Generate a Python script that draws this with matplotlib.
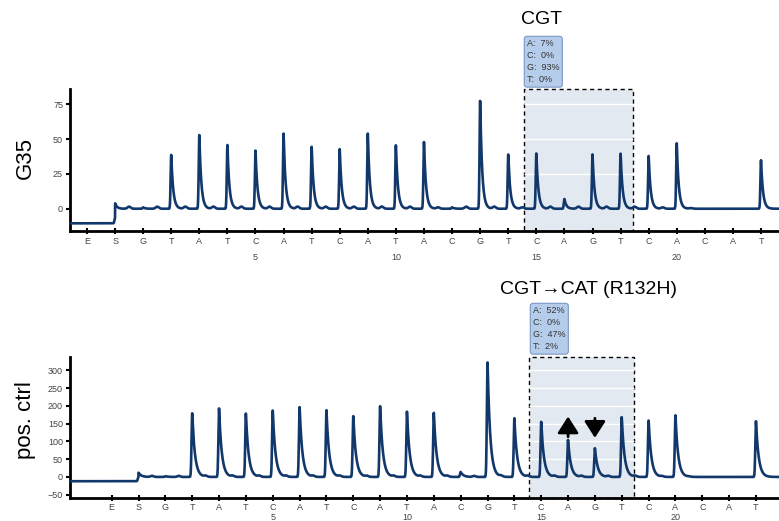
import numpy as np
import matplotlib
matplotlib.use("Agg")
import matplotlib.pyplot as plt
from matplotlib.patches import Rectangle

plt.rcParams['font.family'] = ['Liberation Sans', 'DejaVu Sans']

# dispensation order and positions (E = enzyme, S = substrate)
flows = list("ESGTATCATCATACGTCAGTCACAT")
positions = list(range(-1, 24))
numbered = {5: "5", 10: "10", 15: "15", 20: "20"}

# peak heights, one per dispensation
g35_heights = [0, 4, 1, 39, 53, 46, 42, 54, 45, 43, 54, 46, 48, 1, 78,
               39, 40, 7, 39, 40, 38, 47, 0, 0, 35]
ctrl_heights = [0, 12, 2, 179, 193, 179, 188, 198, 188, 171, 199, 184, 181, 14, 324,
                165, 155, 104, 81, 169, 160, 174, 0, 0, 157]

# small ripples between dispensations (positions 0.5 ... 22.5)
ripple_pos = [p + 0.5 for p in range(0, 23)]
g35_ripple = [1.5, 1.5, 1.5, 1.5, 1.5, 1.5, 1.5, 1.5, 1.5, 1.5, 1.5, 1, 1.5, 1.5,
              1, 1.5, 1.5, 1.5, 1.5, 1, 0.5, 0, 0]
ctrl_ripple = [3, 3, 3, 3, 3, 3, 3, 3, 3, 3, 3, 3, 3, 3,
               3, 3, 3, 3, 3, 2, 1, 0, 0]

g35_offset = -10.5   # baseline before substrate
ctrl_offset = -12

g35_pct = "A:  7%\nC:  0%\nG:  93%\nT:  0%"
ctrl_pct = "A:  52%\nC:  0%\nG:  47%\nT:  2%"

line_color = '#12386b'
box_face = '#e3e9f0'


def trace(x, heights, ripple, offset, rise, tail):
    y = np.where(x < 0, offset, 0.0)
    for p, h in zip(positions, heights):
        t = x - p
        y = y + h * np.where(t < 0, np.exp(-(t / rise) ** 2), np.exp(-np.clip(t, 0, None) / tail))
    for p, h in zip(ripple_pos, ripple):
        y = y + h * np.exp(-((x - p) / 0.08) ** 2)
    return y


def style_axes(ax, xlim, ylim, yticks, region, pct_grid, spacing, pad):
    ax.set_xlim(*xlim)
    ax.set_ylim(*ylim)
    for s in ['top', 'right']:
        ax.spines[s].set_visible(False)
    for s in ['left', 'bottom']:
        ax.spines[s].set_linewidth(2)
    ax.set_yticks(yticks)
    ax.set_xticks(positions)
    ax.set_xticklabels([f + ("\n" + numbered[p] if p in numbered else "")
                        for f, p in zip(flows, positions)], linespacing=spacing)
    ax.tick_params(axis='x', direction='inout', length=5, width=1.5, labelsize=6.5,
                   labelcolor='#444444', pad=pad)
    ax.tick_params(axis='y', direction='out', length=3, width=1.5, labelsize=6.5,
                   labelcolor='#444444', pad=2)
    x0, x1 = region
    ax.add_patch(Rectangle((x0, ylim[0]), x1 - x0, ylim[1] - ylim[0], facecolor=box_face,
                           edgecolor='black', linestyle=(0, (3, 2.5)), linewidth=1,
                           zorder=0, clip_on=False))
    ax.hlines(pct_grid, x0, x1, colors='white', linewidth=1, zorder=1)


fig = plt.figure(figsize=(7.79, 5.21), dpi=100)

# top panel: G35
ax1 = fig.add_axes([70 / 779, 1 - 231 / 521, 1 - 70 / 779, (231 - 89) / 521])
xl1 = (-1.605, 23.64)
x = np.linspace(xl1[0], xl1[1], 6000)
style_axes(ax1, xl1, (-16, 86), [0, 25, 50, 75], (14.55, 18.45), [25, 50, 75], 1.9, 2)
ax1.plot(x, trace(x, g35_heights, g35_ripple, g35_offset, 0.03, 0.07),
         color=line_color, lw=1.9, zorder=3)

# bottom panel: positive control
ax2 = fig.add_axes([70 / 779, 1 - 498.3 / 521, 1 - 70 / 779, (498.3 - 356.7) / 521])
xl2 = (-2.553, 23.857)
x = np.linspace(xl2[0], xl2[1], 6000)
style_axes(ax2, xl2, (-60, 338), [-50, 0, 50, 100, 150, 200, 250, 300], (14.56, 18.44),
           [50, 100, 150, 200, 250, 300], 1.15, 1)
ax2.plot(x, trace(x, ctrl_heights, ctrl_ripple, ctrl_offset, 0.035, 0.1),
         color=line_color, lw=1.9, zorder=3)

fig.text(25 / 779, 1 - 158 / 521, "G35", fontsize=16, rotation=90, ha='center', va='center')
fig.text(25 / 779, 1 - 420 / 521, "pos. ctrl", fontsize=16, rotation=90, ha='center', va='center')

arrow = dict(arrowstyle='-|>,head_length=0.5,head_width=0.32', color='black', lw=2,
             mutation_scale=20, shrinkA=0, shrinkB=0)
ax2.annotate("", xy=(16, 170), xytext=(16, 113), arrowprops=arrow, zorder=4)
ax2.annotate("", xy=(17, 110), xytext=(17, 165), arrowprops=arrow, zorder=4)

# headers and percentage boxes
fig.text(542 / 779, 1 - 20 / 521, "CGT", fontsize=14, ha='center', va='center')
fig.text(588 / 779, 1 - 290 / 521, "CGT\u2192CAT (R132H)", fontsize=14, ha='center', va='center')

info = dict(boxstyle='round,pad=0.3,rounding_size=0.3', facecolor='#b5cdea', edgecolor='#7b98c4', lw=0.8)
fig.text(527 / 779, 1 - 39 / 521, g35_pct, fontsize=6.5, color='#333333', ha='left', va='top',
         linespacing=1.45, bbox=info)
fig.text(533 / 779, 1 - 306 / 521, ctrl_pct, fontsize=6.5, color='#333333', ha='left', va='top',
         linespacing=1.45, bbox=info)

fig.savefig("out.png", dpi=100)
